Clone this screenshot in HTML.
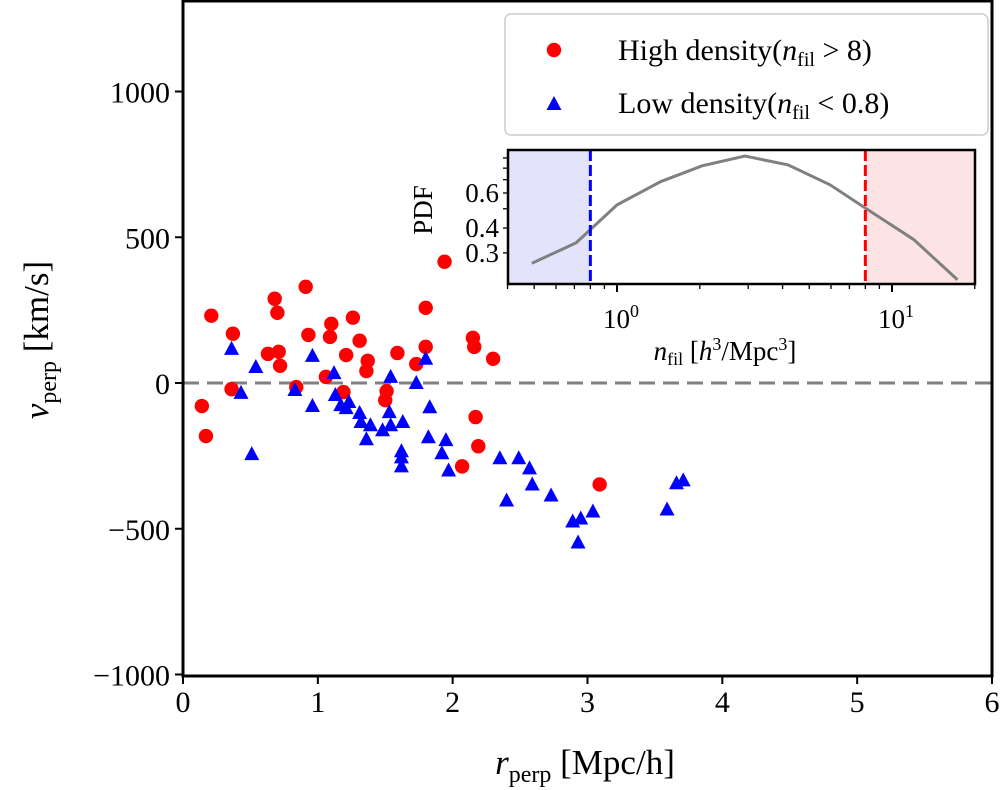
<!DOCTYPE html>
<html><head><meta charset="utf-8"><style>
body{margin:0;background:#fff;width:1000px;height:790px;overflow:hidden}
svg{display:block;font-family:"Liberation Serif","DejaVu Serif",serif}
</style></head><body>
<svg id="c" width="1000" height="790" viewBox="0 0 1000 790"></svg>
<script>
const highX=[0.21,0.37,0.68,0.70,0.91,0.63,0.71,0.72,0.93,1.10,1.09,1.26,1.31,1.21,1.37,1.36,1.06,1.80,1.80,1.59,1.73,1.94,2.15,2.16,2.30,0.84,0.36,0.14,0.17,1.19,1.51,1.50,2.17,2.19,2.07,3.09];
const highY=[231,169,289,241,330,100,107,59,165,203,158,224,145,96,76,41,21,258,124,103,65,416,155,124,83,-14,-21,-79,-182,-31,-28,-59,-117,-217,-286,-348];
const lowX=[0.36,0.54,0.43,0.51,0.83,0.96,0.96,1.12,1.13,1.17,1.21,1.23,1.31,1.32,1.39,1.36,1.48,1.54,1.53,1.54,1.63,1.62,1.62,1.62,1.73,1.80,1.83,1.82,1.95,1.92,1.97,2.35,2.49,2.57,2.59,2.40,2.73,2.89,2.95,3.04,2.93,3.59,3.66,3.71];
const lowY=[117,55,-34,-244,-24,93,-79,34,-41,-76,-86,-65,-103,-134,-145,-193,-162,-145,-100,21,-134,-234,-255,-286,0,83,-83,-186,-196,-241,-300,-258,-258,-293,-348,-403,-386,-475,-465,-441,-547,-434,-344,-334];
const xTicks=[0,1,2,3,4,5,6];
const yTicks=[1000,500,0,-500,-1000];
const pdfX=[0.49,0.71,1.0,1.44,2.04,2.92,4.19,5.95,8.07,12.0,17.3];
const pdfY=[0.266,0.337,0.523,0.684,0.822,0.92,0.83,0.66,0.50,0.35,0.22];
const lowCut=0.8, highCut=8;
const insetYLabels=[0.3,0.4,0.6];

const NS='http://www.w3.org/2000/svg';
const svg=document.getElementById('c');
function mk(t,a,p){const e=document.createElementNS(NS,t);for(const k in a)e.setAttribute(k,a[k]);(p||svg).appendChild(e);return e;}
const L=183,R=992,T=1,B=676;
const sx=v=>L+v*(R-L)/6;
const sy=v=>383-v*0.2915;

const zl=mk('line',{x1:L,x2:R,y1:sy(0),y2:sy(0),stroke:'#808080','stroke-width':3,'stroke-dasharray':'16,8'});


const g1=mk('g',{});
highX.forEach((x,i)=>{const c=mk('circle',{cx:sx(x),cy:sy(highY[i]),r:7.2,fill:'#ff0000'},g1);
});
const g2=mk('g',{});
function tri(cx,cy,p){return mk('polygon',{points:`${cx},${cy-8} ${cx-7.5},${cy+6} ${cx+7.5},${cy+6}`,fill:'#0000ff'},p);}
lowX.forEach((x,i)=>{const t=tri(sx(x),sy(lowY[i]),g2);
});

const fr=mk('rect',{x:L,y:T,width:R-L,height:B-T,fill:'none',stroke:'#000','stroke-width':3});

xTicks.forEach(v=>{mk('line',{x1:sx(v),x2:sx(v),y1:B,y2:B+8,stroke:'#000','stroke-width':2});
const t=mk('text',{x:sx(v),y:B+36,'font-size':30,'text-anchor':'middle'});t.textContent=v;
});
yTicks.forEach(v=>{mk('line',{x1:L-8,x2:L,y1:sy(v),y2:sy(v),stroke:'#000','stroke-width':2});
const t=mk('text',{x:L-13,y:sy(v)+11,'font-size':30,'text-anchor':'end'});t.textContent=v<0?'\u2212'+(-v):v;
});
let xt=mk('text',{x:585,y:774,'font-size':35,'text-anchor':'middle'});
xt.innerHTML='<tspan font-style="italic">r</tspan><tspan font-size="24" dy="8">perp</tspan><tspan dy="-8"> [Mpc/h]</tspan>';

let yt=mk('text',{x:0,y:0,'font-size':35,'text-anchor':'middle',transform:'translate(48,340) rotate(-90)'});
yt.innerHTML='<tspan font-style="italic">v</tspan><tspan font-size="24" dy="8">perp</tspan><tspan dy="-8"> [km/s]</tspan>';


const lg=mk('g',{});
mk('rect',{x:505,y:14,width:483,height:121,rx:6,fill:'#fff',stroke:'#ccc','stroke-width':1.5},lg);
mk('circle',{cx:554,cy:50,r:7.2,fill:'#ff0000'},lg);
tri(554,104,lg);
let l1=mk('text',{x:618,y:60,'font-size':30},lg);
l1.innerHTML='High density(<tspan font-style="italic">n</tspan><tspan font-size="20" dy="6">fil</tspan><tspan dy="-6"> &gt; 8)</tspan>';

let l2=mk('text',{x:618,y:113,'font-size':30},lg);
l2.innerHTML='Low density(<tspan font-style="italic">n</tspan><tspan font-size="20" dy="6">fil</tspan><tspan dy="-6"> &lt; 0.8)</tspan>';


const IL=508,IR=975,IT=150,IB=284;
const ix=v=>617+Math.log10(v)*275;
const iy=v=>193-(Math.log10(v)-Math.log10(0.6))*199;
const ig=mk('g',{});
mk('rect',{x:IL,y:IT,width:IR-IL,height:IB-IT,fill:'#fff'},ig);
const bs=mk('rect',{x:IL,y:IT,width:ix(lowCut)-IL,height:IB-IT,fill:'#e3e3fb'},ig);

const rs=mk('rect',{x:ix(highCut),y:IT,width:IR-ix(highCut),height:IB-IT,fill:'#fde3e3'},ig);

const pl=mk('polyline',{points:pdfX.map((x,i)=>ix(x)+','+iy(pdfY[i])).join(' '),fill:'none',stroke:'#808080','stroke-width':3},ig);

const bl=mk('line',{x1:ix(lowCut),x2:ix(lowCut),y1:IT,y2:IB,stroke:'#0000ff','stroke-width':3,'stroke-dasharray':'11,4'},ig);

const rl=mk('line',{x1:ix(highCut),x2:ix(highCut),y1:IT,y2:IB,stroke:'#ff0000','stroke-width':3,'stroke-dasharray':'11,4'},ig);

mk('rect',{x:IL,y:IT,width:IR-IL,height:IB-IT,fill:'none',stroke:'#000','stroke-width':2.5},ig);
[0.4,0.5,0.6,0.7,0.8,0.9,1,2,3,4,5,6,7,8,9,10,20].forEach(v=>{const maj=(v===1||v===10);
mk('line',{x1:ix(v),x2:ix(v),y1:IB,y2:IB+(maj?8:5),stroke:'#000','stroke-width':maj?2:1.3},ig);});
[['10','0',1],['10','1',10]].forEach(a=>{const t=mk('text',{x:ix(a[2])+4,y:IB+44,'font-size':27,'text-anchor':'middle'},ig);
t.innerHTML=a[0]+'<tspan font-size="18" dy="-11">'+a[1]+'</tspan>';
});
[0.3,0.4,0.5,0.6,0.7,0.8,0.9].forEach(v=>{mk('line',{x1:IL-5,x2:IL,y1:iy(v),y2:iy(v),stroke:'#000','stroke-width':1.3},ig);});
insetYLabels.forEach(v=>{const t=mk('text',{x:IL-9,y:iy(v)+9,'font-size':27,'text-anchor':'end'},ig);t.textContent=v;
});
const iyt=mk('text',{x:0,y:0,'font-size':27,'text-anchor':'middle',transform:'translate(432,210) rotate(-90)'},ig);
iyt.textContent='PDF';
const ixt=mk('text',{x:725,y:360,'font-size':27,'text-anchor':'middle'},ig);
ixt.innerHTML='<tspan font-style="italic">n</tspan><tspan font-size="18" dy="5">fil</tspan><tspan dy="-5"> [</tspan><tspan font-style="italic">h</tspan><tspan font-size="18" dy="-10">3</tspan><tspan dy="10">/Mpc</tspan><tspan font-size="18" dy="-10">3</tspan><tspan dy="10">]</tspan>';

</script>
</body></html>
